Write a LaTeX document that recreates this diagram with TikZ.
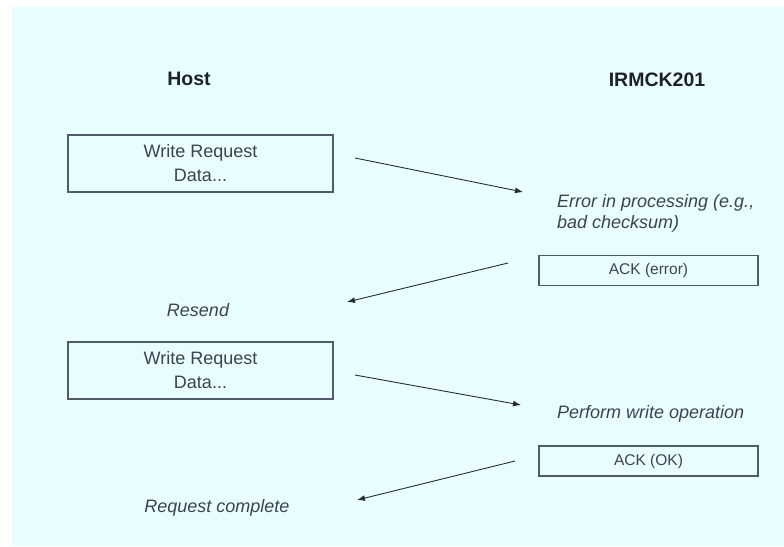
\documentclass[tikz,border=0pt]{standalone}
\usepackage{fontspec}
\setmainfont{Liberation Sans}
\usetikzlibrary{arrows.meta}
\definecolor{bgcyan}{RGB}{232,254,254}
\definecolor{boxline}{RGB}{80,90,105}
\definecolor{txtgray}{RGB}{60,66,82}
\definecolor{headtxt}{RGB}{30,32,44}
\definecolor{arrowcol}{RGB}{40,44,56}
\tikzset{
  header/.style={font=\fontsize{19.5}{23}\selectfont\bfseries, text=headtxt, inner sep=0pt, anchor=base},
  reqbox/.style={draw=boxline, line width=1.2pt, minimum width=265pt, minimum height=57pt, inner sep=0pt,
    align=center, text=txtgray, font=\fontsize{18}{24}\selectfont},
  ackbox/.style={draw=boxline, line width=1.2pt, minimum width=219pt, minimum height=30pt, inner sep=0pt,
    text=txtgray, font=\fontsize{15.5}{18}\selectfont},
  note/.style={font=\fontsize{18}{20.5}\selectfont\itshape, text=txtgray, inner sep=0pt},
  msg/.style={draw=arrowcol, line width=0.9pt, -{Latex[length=8pt,width=6pt]}}
}
\begin{document}
\begin{tikzpicture}[x=1pt,y=-1pt]
\useasboundingbox (0,0) rectangle (784,546);
\fill[white] (0,0) rectangle (784,546);
\fill[bgcyan] (12,7) rectangle (784,546);

\node[header] (host) at (189,85) {Host};
\node[header] (irmck) at (657,86) {IRMCK201};

\node[reqbox] (req1) at (200.5,163.5) {Write Request\\Data...};
\node[note, anchor=base west, align=left] (err) at (557,228) {Error in processing (e.g.,\\bad checksum)};
\node[ackbox] (ack1) at (648.5,270.5) {ACK (error)};
\node[note, anchor=base] (resend) at (198,316) {Resend};
\node[reqbox] (req2) at (200.5,370.5) {Write Request\\Data...};
\node[note, anchor=base west] (perf) at (557,418) {Perform write operation};
\node[ackbox] (ack2) at (648.5,461) {ACK (OK)};
\node[note, anchor=base] (done) at (217,512) {Request complete};

\coordinate (m1s) at (355,158);
\coordinate (m1e) at (523,192);
\coordinate (m2s) at (508,263);
\coordinate (m2e) at (347,302);
\coordinate (m3s) at (355,375);
\coordinate (m3e) at (521,405);
\coordinate (m4s) at (515,461);
\coordinate (m4e) at (357,500);

\draw[msg] (m1s) -- (m1e);
\draw[msg] (m2s) -- (m2e);
\draw[msg] (m3s) -- (m3e);
\draw[msg] (m4s) -- (m4e);
\end{tikzpicture}
\end{document}
